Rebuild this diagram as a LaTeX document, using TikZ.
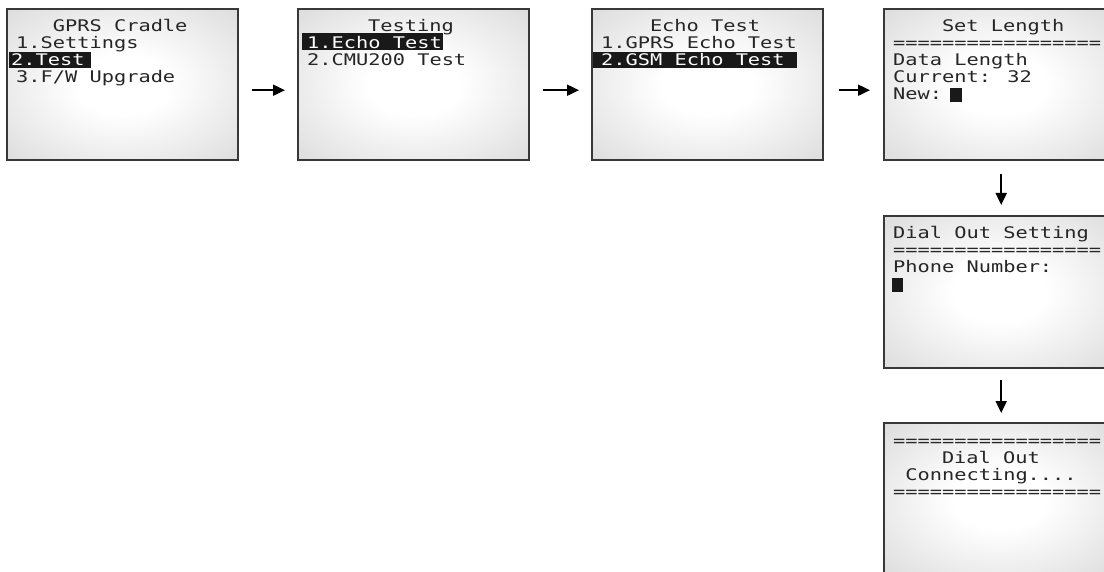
\documentclass[tikz,border=0pt]{standalone}
\usepackage{fontspec}
\newfontfamily\lcdfont[FakeStretch=1.27]{DejaVu Sans Mono}
\usetikzlibrary{arrows.meta}
\pgfdeclareradialshading{lcdshade}{\pgfpoint{0bp}{0bp}}{color(0bp)=(white); color(10bp)=(white); color(50bp)=(black!21); color(72bp)=(black!27)}
\tikzset{
  screen/.style={draw=black!78, line width=2.4pt, shading=lcdshade, minimum width=231pt, minimum height=151pt, anchor=north west, inner sep=0pt},
  lcdtxt/.style={font=\lcdfont\fontsize{16}{17}\selectfont, text=black!85, anchor=base west, inner sep=0pt},
  invtxt/.style={lcdtxt, text=white},
  hlbar/.style={fill=black!90},
  cursorbox/.style={fill=black!90},
  flow/.style={line width=1.9pt, -{Triangle[length=12pt,width=11pt]}}
}
\begin{document}
\begin{tikzpicture}[x=1pt,y=-1pt]
\useasboundingbox (0,0) rectangle (1104,572);
% screens
\node[screen] (s1) at (6,8) {};
\node[screen] (s2) at (297,8) {};
\node[screen] (s3) at (591,8) {};
\node[screen] (s4) at (883,8) {};
\node[screen, minimum height=152pt] (s5) at (883,215) {};
\node[screen, minimum height=152pt] (s6) at (883,422) {};
% screen 1
\node[lcdtxt] (t1a) at (52.7,32) {GPRS Cradle};
\node[lcdtxt] (t1b) at (16,49) {1.Settings};
\fill[hlbar] (9,52) rectangle (91,68);
\node[invtxt] (t1c) at (11,66) {2.Test};
\node[lcdtxt] (t1d) at (16,83) {3.F/W Upgrade};
% screen 2
\node[lcdtxt] (t2a) at (368,32) {Testing};
\fill[hlbar] (302,33) rectangle (443,50);
\node[invtxt] (t2b) at (307,49) {1.Echo Test};
\node[lcdtxt] (t2c) at (307,66) {2.CMU200 Test};
% screen 3
\node[lcdtxt] (t3a) at (649.8,32) {Echo Test};
\node[lcdtxt] (t3b) at (601,49) {1.GPRS Echo Test};
\fill[hlbar] (593,52) rectangle (797,68);
\node[invtxt] (t3c) at (601,66) {2.GSM Echo Test};
% screen 4
\node[lcdtxt] (t4a) at (941.8,32) {Set Length};
\node[lcdtxt] (t4b) at (893,49) {=================};
\node[lcdtxt] (t4c) at (893,66) {Data Length};
\node[lcdtxt] (t4d) at (893,83) {Current: 32};
\node[lcdtxt] (t4e) at (893,100) {New:};
\fill[cursorbox] (950,88) rectangle (962,102);
% screen 5
\node[lcdtxt] (t5a) at (893,239) {Dial Out Setting};
\node[lcdtxt] (t5b) at (893,256) {=================};
\node[lcdtxt] (t5c) at (893,273) {Phone Number:};
\fill[cursorbox] (892,278) rectangle (903,292);
% screen 6
\node[lcdtxt] (t6a) at (893,446) {=================};
\node[lcdtxt] (t6b) at (941.8,463) {Dial Out};
\node[lcdtxt] (t6c) at (905.2,480) {Connecting....};
\node[lcdtxt] (t6d) at (893,497) {=================};
% arrows
\draw[flow, shorten <=13pt, shorten >=12pt] ([yshift=-5.5pt]s1.east) -- ([yshift=-5.5pt]s2.west);
\draw[flow, shorten <=13pt, shorten >=12pt] ([yshift=-5.5pt]s2.east) -- ([yshift=-5.5pt]s3.west);
\draw[flow, shorten <=15pt, shorten >=13pt] ([yshift=-5.5pt]s3.east) -- ([yshift=-5.5pt]s4.west);
\draw[flow, shorten <=13pt, shorten >=10pt] ([xshift=1.5pt]s4.south) -- ([xshift=1.5pt]s5.north);
\draw[flow, shorten <=11pt, shorten >=9pt] ([xshift=1.5pt]s5.south) -- ([xshift=1.5pt]s6.north);
\end{tikzpicture}
\end{document}
